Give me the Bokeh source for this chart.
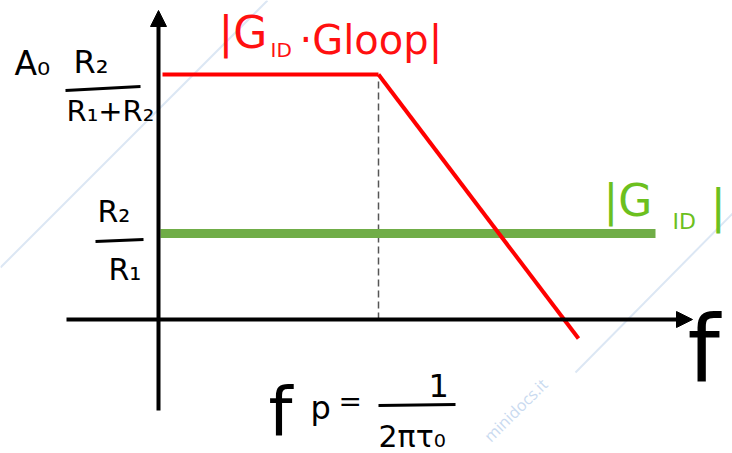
from bokeh.plotting import figure
from bokeh.models import Range1d, Arrow, NormalHead, Label
from bokeh.embed import file_html
from bokeh.resources import INLINE

# Schematic Bode magnitude sketch (arbitrary units, origin at the axes crossing)
freq_flat = [0.04, 2.20]          # flat part of |G_ID*Gloop| up to the pole
gain_closed = [2.45, 2.45]        # A0*R2/(R1+R2)
freq_rolloff = [2.20, 4.20]       # -20 dB/dec section after f_p
gain_rolloff = [2.45, -0.19]
freq_ideal = [0.02, 4.97]         # ideal gain |G_ID| = R2/R1
gain_ideal = [0.86, 0.86]
f_pole = 2.20

# axis extents
x_axis = [-0.92, 5.34]
y_axis = [-0.91, 3.09]

p = figure(width=732, height=453, output_backend="svg", toolbar_location=None,
           x_range=Range1d(-1.58, 5.74), y_range=Range1d(-1.34, 3.19),
           min_border=0, outline_line_color=None, background_fill_color="white")
p.axis.visible = False
p.grid.visible = False

# faint watermark diagonals
p.line([-1.58, 1.09], [0.52, 3.19], line_color="#dce7f4", line_width=2)
p.line([4.17, 5.82], [-0.53, 1.14], line_color="#dce7f4", line_width=2)
p.add_layout(Label(x=3.36, y=-1.27, text="minidocs.it", angle=0.78,
                   text_font="Open Sans", text_font_size="16px",
                   text_color="#c9daf0"))

# axes with arrow heads
p.add_layout(Arrow(x_start=x_axis[0], y_start=0, x_end=x_axis[1], y_end=0,
                   line_width=4, line_color="black",
                   end=NormalHead(size=16, fill_color="black", line_color="black")))
p.add_layout(Arrow(x_start=0, y_start=y_axis[0], x_end=0, y_end=y_axis[1],
                   line_width=4, line_color="black",
                   end=NormalHead(size=16, fill_color="black", line_color="black")))

# dashed marker at the pole frequency
p.line([f_pole, f_pole], [0, gain_closed[0] - 0.03], line_color="#555555",
       line_width=1.5, line_dash="7 4")

# ideal gain (green) and loop-limited gain (red)
p.line(freq_ideal, gain_ideal, line_color="#70ad47", line_width=9)
p.line(freq_flat, gain_closed, line_color="#ff0000", line_width=4)
p.line(freq_rolloff, gain_rolloff, line_color="#ff0000", line_width=4)

FONT = "DejaVu Sans"


def txt(x, y, s, size, color="black", **kw):
    # y is the intended baseline; shift the label up so the glyphs sit on it
    p.add_layout(Label(x=x, y=y, text=s, text_font=FONT,
                       text_font_size=f"{size}px", text_color=color,
                       text_baseline="alphabetic", y_offset=0.38 * size, **kw))


# red label |G_ID · Gloop|
red = "#ff1010"
txt(0.60, 2.70, "|G", 44, red)
txt(1.12, 2.62, "ID", 20, red)
txt(1.41, 2.64, "·Gloop|", 40, red)

# green label |G_ID|
green = "#6cc01e"
txt(4.45, 1.02, "|G", 44, green)
txt(5.14, 0.90, "ID", 22, green)
txt(5.52, 0.96, "|", 46, green)

# A0 * R2/(R1+R2)
txt(-1.44, 2.43, "A₀", 33)
txt(-0.85, 2.45, "R₂", 32)
p.line([-0.93, -0.18], [2.29, 2.33], line_color="black", line_width=3)
txt(-0.92, 1.97, "R₁+R₂", 29)

# R2/R1
txt(-0.61, 0.97, "R₂", 30)
p.line([-0.63, -0.15], [0.78, 0.80], line_color="black", line_width=3)
txt(-0.50, 0.39, "R₁", 30)

# f_p = 1/(2*pi*tau0)
txt(1.10, -1.19, "f", 68)
txt(1.52, -1.01, "p", 32)
txt(1.80, -0.93, "=", 28)
txt(2.70, -0.78, "1", 32)
p.line([2.20, 2.97], [-0.86, -0.85], line_color="black", line_width=3)
txt(2.20, -1.28, "2πτ₀", 30)

# frequency axis label
txt(5.29, -0.66, "f", 92)

with open("out.html", "w") as fh:
    fh.write(file_html(p, INLINE))
